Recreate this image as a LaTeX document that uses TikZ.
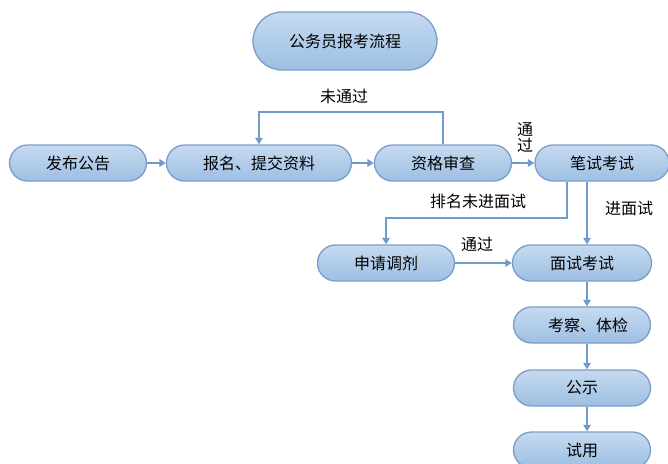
\documentclass[tikz,border=0pt]{standalone}
\usepackage{fontspec}
\setmainfont{Noto Sans CJK SC}
\usepackage{tikz}
\usetikzlibrary{shapes.misc}
\usetikzlibrary{arrows.meta}

\definecolor{boxtop}{HTML}{C6DAF0}
\definecolor{boxbot}{HTML}{9DBFE3}
\definecolor{boxline}{HTML}{7B9DCA}
\definecolor{flow}{HTML}{6F9BC9}

\tikzset{
  stepbox/.style={rounded rectangle, draw=boxline, line width=1.3pt,
    top color=boxtop, bottom color=boxbot, minimum width=137pt,
    minimum height=36pt, inner sep=0pt, font=\fontsize{16}{19}\selectfont},
  flowline/.style={draw=flow, line width=1.6pt, ->, >={Triangle[length=6.5pt,width=7.5pt]}},
  tag/.style={font=\fontsize{16}{16}\selectfont, inner sep=0pt, align=center}
}

\begin{document}
\begin{tikzpicture}[x=1pt, y=-1pt]
        \useasboundingbox (0,0) rectangle (668,463);
        % boxes
        \node[stepbox, minimum width=184pt, minimum height=58pt] (title) at (345,41) {公务员报考流程};
        \node[stepbox] (fabu) at (78,163) {发布公告};
        \node[stepbox, minimum width=185pt] (baoming) at (259,163) {报名、提交资料};
        \node[stepbox] (zige) at (443,163) {资格审查};
        \node[stepbox, minimum width=134pt] (bishi) at (602,163) {笔试考试};
        \node[stepbox] (tiaoji) at (386,263) {申请调剂};
        \node[stepbox, minimum width=139pt] (mianshi) at (582,263) {面试考试};
        \node[stepbox] (kaocha) at (582,325) {\hspace{12pt}考察、体检};
        \node[stepbox] (gongshi) at (582,388) {公示};
        \node[stepbox] (shiyong) at (582,450) {试用};
        % turning points
        \coordinate (back) at (350,112);
        \coordinate (split) at (567,218);
        \coordinate (jin) at (587,218);
        % connectors
        \draw[flowline] (fabu) -- (baoming);
        \draw[flowline] (baoming) -- (zige);
        \draw[flowline] (zige) -- (bishi);
        \draw[flowline] (zige.north) |- (back) -| (baoming.north);
        \draw[flowline] (bishi.south -| split) -- (split) -| (tiaoji.north);
        \draw[flowline] (bishi.south -| jin) -- (mianshi.north -| jin);
        \draw[flowline] (tiaoji) -- (mianshi);
        \draw[flowline] (mianshi.south -| jin) -- (kaocha.north -| jin);
        \draw[flowline] (kaocha.south -| jin) -- (gongshi.north -| jin);
        \draw[flowline] (gongshi.south -| jin) -- (shiyong.north -| jin);
        % labels
        \node[tag] (weitg) at (344,96) {未通过};
        \node[tag] (tg1) at (525,137) {通\\过};
        \node[tag] (paiming) at (478,201) {排名未进面试};
        \node[tag] (jinms) at (629,208) {进面试};
        \node[tag] (tg2) at (477,244) {通过};
\end{tikzpicture}
\end{document}
